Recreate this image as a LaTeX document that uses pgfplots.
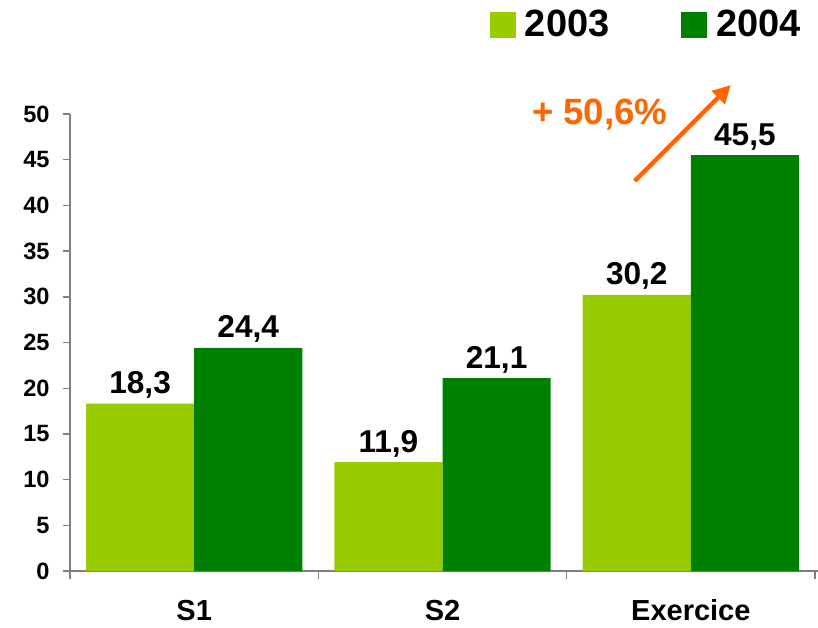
\documentclass[border=0pt]{standalone}
\usepackage{fontspec}
\setmainfont{Liberation Sans}
\usepackage{pgfplots}
\pgfplotsset{compat=1.18}
\usetikzlibrary{arrows.meta}
\definecolor{g03}{HTML}{99CC00}
\definecolor{g04}{HTML}{008000}
\definecolor{orng}{HTML}{FF6600}
\definecolor{axgray}{HTML}{808080}

\begin{document}
\begin{tikzpicture}
\path[use as bounding box] (0,0) rectangle (409pt,313.5pt);
\begin{axis}[
    at={(35pt,28pt)}, anchor=south west,
    scale only axis,
    width=372.5pt, height=228.5pt,
    xmin=-0.5, xmax=2.5,
    ymin=0, ymax=50,
    axis x line*=bottom, axis y line*=left,
    axis line style={draw=axgray, line width=0.7pt},
    x axis line style={shorten <=-3.5pt, shorten >=-1.5pt},
    tick align=outside,
    ybar=0pt, bar width=0.4355,
    legend image code/.code={\fill[#1] (0pt,-6.5pt) rectangle (13pt,6.5pt);},
    ytick={0,5,...,50},
    xtick={0,1,2},
    xticklabels={S1,S2,Exercice},
    minor xtick={-0.5,0.5,1.5,2.5},
    tick style={draw=axgray, line width=0.7pt},
    major x tick style={draw=none},
    major tick length=3.5pt,
    minor tick length=4pt,
    /pgf/number format/assume math mode=true,
    yticklabel style={font=\bfseries\fontsize{11.8}{13}\selectfont, anchor=east, inner sep=0pt, xshift=-6.5pt},
    xticklabel style={font=\bfseries\fontsize{14.5}{16}\selectfont, anchor=base, inner sep=0pt, yshift=-21pt},
    nodes near coords={\pgfmathprintnumber[use comma,fixed,fixed zerofill,precision=1,assume math mode=true]{\pgfplotspointmeta}},
    every node near coord/.append style={font=\bfseries\fontsize{15.8}{17}\selectfont, text=black, anchor=base, inner sep=0pt, yshift=5pt},
    legend columns=2,
    legend style={at={(rel axis cs:0.9866,1.236)}, anchor=north east, draw=none, fill=none,
        inner sep=0pt, outer sep=0pt,
        font=\bfseries\fontsize{19}{21}\selectfont,
        /tikz/every odd column/.append style={column sep=2.5pt},
        /tikz/every even column/.append style={column sep=34pt}},
    clip=false,
]
\addplot[fill=g03, draw=none] coordinates {(0,18.3) (1,11.9) (2,30.2)};
\addlegendentry{2003}
\addplot[fill=g04, draw=none] coordinates {(0,24.4) (1,21.1) (2,45.5)};
\addlegendentry{2004}

\draw[orng, line width=2.2pt, -{Triangle[length=9pt,width=9pt]}] (axis cs:1.774,42.67) -- (axis cs:2.161,53.17);
\node[orng, font=\bfseries\fontsize{18.3}{20}\selectfont] at (axis cs:1.633,49.9) {+ 50,6\%};
\end{axis}
\end{tikzpicture}
\end{document}
